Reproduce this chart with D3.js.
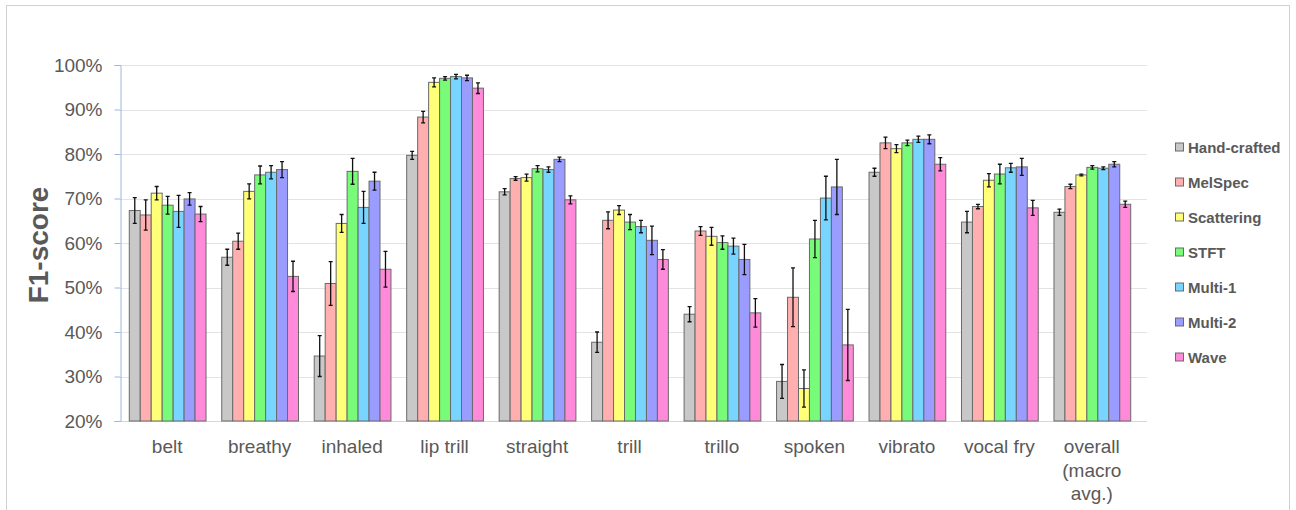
<!DOCTYPE html>
<html lang="en">
<head>
  <meta charset="UTF-8">
  <title>F1-score per technique</title>
  <script src="https://d3js.org/d3.v7.min.js"></script>
  <style>
    body { margin: 0; background: #fff; }
    text { font-family: "Liberation Sans", Arial, sans-serif; fill: #595959; }
    .grid line { stroke: #e3e3e3; }
    .bar { stroke: #6a6a6a; stroke-width: 1px; }
    .err { stroke: #111; stroke-width: 1.3px; fill: none; }
    .legend text { font-weight: bold; font-size: 15px; }
  </style>
</head>
<body>
  <svg width="1296" height="510"></svg>
  <script>
    // categories on the x axis
    var categories = ["belt", "breathy", "inhaled", "lip trill", "straight", "trill", "trillo", "spoken", "vibrato", "vocal fry", "overall"];
    var categoryLabels = [["belt"], ["breathy"], ["inhaled"], ["lip trill"], ["straight"], ["trill"], ["trillo"], ["spoken"], ["vibrato"], ["vocal fry"], ["overall", "(macro", "avg.)"]];
    var yTicks = [20, 30, 40, 50, 60, 70, 80, 90, 100];

    // series (F1 in %) and their error bars
    var seriesNames = ["Hand-crafted", "MelSpec", "Scattering", "STFT", "Multi-1", "Multi-2", "Wave"];
    var seriesColors = ["#c8c8c8", "#ffafaf", "#ffff78", "#78fb78", "#78d5ff", "#9a9cff", "#ff8ad9"];

    var handCrafted    = [67.3, 56.8, 34.6, 79.7, 71.5, 37.7, 44.0, 28.9, 75.9, 64.7, 66.9];
    var handCraftedErr = [2.9, 1.8, 4.6, 0.9, 0.7, 2.3, 1.7, 3.8, 0.9, 2.4, 0.7];
    var melSpec        = [66.3, 60.4, 50.9, 88.3, 74.5, 65.1, 62.7, 47.8, 82.5, 68.2, 72.7];
    var melSpecErr     = [3.4, 1.8, 4.9, 1.3, 0.4, 1.9, 1.0, 6.6, 1.3, 0.5, 0.5];
    var scattering     = [71.2, 71.6, 64.4, 96.1, 74.7, 67.4, 61.5, 27.3, 81.2, 74.1, 75.3];
    var scatteringErr  = [1.5, 1.7, 2.0, 1.0, 0.8, 1.0, 2.0, 4.2, 0.9, 1.5, 0.2];
    var stft           = [68.5, 75.3, 76.1, 97.0, 76.7, 64.7, 60.1, 60.9, 82.5, 75.5, 77.0];
    var stftErr        = [2.0, 2.0, 2.9, 0.4, 0.7, 1.7, 1.5, 4.2, 0.6, 2.2, 0.4];
    var multi1         = [67.1, 75.9, 68.0, 97.4, 76.5, 63.7, 59.3, 70.1, 83.3, 76.9, 76.8];
    var multi1Err      = [3.6, 1.5, 3.6, 0.5, 0.6, 1.4, 1.8, 4.9, 0.7, 1.0, 0.3];
    var multi2         = [69.9, 76.5, 73.9, 97.1, 78.8, 60.6, 56.3, 72.6, 83.3, 77.1, 77.7];
    var multi2Err      = [1.4, 1.8, 2.0, 0.6, 0.5, 3.2, 3.4, 6.2, 1.0, 1.9, 0.6];
    var wave           = [66.5, 52.5, 54.1, 94.8, 69.7, 56.3, 44.3, 37.1, 77.7, 67.9, 68.7];
    var waveErr        = [1.7, 3.4, 4.0, 1.2, 0.9, 2.2, 3.2, 8.0, 1.5, 1.7, 0.7];

    var values = [handCrafted, melSpec, scattering, stft, multi1, multi2, wave];
    var errors = [handCraftedErr, melSpecErr, scatteringErr, stftErr, multi1Err, multi2Err, waveErr];

    var svg = d3.select("svg");

    // outer frame
    svg.append("rect")
       .attr("x", 6.5).attr("y", 5.5)
       .attr("width", 1283).attr("height", 520)
       .attr("fill", "none").attr("stroke", "#d0d0d0");

    var x0 = d3.scaleBand()
               .domain(categories)
               .range([120, 1139])
               .paddingInner(0.17)
               .paddingOuter(0.095);
    var x1 = d3.scaleBand()
               .domain(seriesNames)
               .range([0, x0.bandwidth()]);
    var y = d3.scaleLinear()
              .domain([20, 100])
              .range([421, 65]);

    // gridlines
    svg.append("g").attr("class", "grid")
       .selectAll("line")
       .data(yTicks.slice(1))
       .enter().append("line")
       .attr("x1", 120).attr("x2", 1147)
       .attr("y1", function(d) { return Math.round(y(d)) + 0.5; })
       .attr("y2", function(d) { return Math.round(y(d)) + 0.5; });

    // bottom axis line
    svg.append("line")
       .attr("x1", 120).attr("x2", 1147)
       .attr("y1", 421.5).attr("y2", 421.5)
       .attr("stroke", "#d6d6d6");

    // y axis
    var yAxis = svg.append("g")
       .attr("transform", "translate(120.5,0)")
       .call(d3.axisLeft(y).tickValues(yTicks).tickSize(6).tickPadding(12)
               .tickFormat(function(d) { return d + "%"; }));
    yAxis.select(".domain").attr("stroke", "#9cb8e0");
    yAxis.selectAll(".tick line").attr("stroke", "#9cb8e0");
    yAxis.selectAll(".tick text")
         .attr("fill", "#595959")
         .style("font-size", "19px")
         .style("font-family", "'Liberation Sans', Arial, sans-serif");

    svg.append("text")
       .attr("transform", "translate(48,245) rotate(-90)")
       .attr("text-anchor", "middle")
       .style("font-size", "28px")
       .style("font-weight", "bold")
       .text("F1-score");

    // bars
    var group = svg.selectAll(".cat")
                   .data(categories)
                   .enter().append("g")
                   .attr("class", "cat")
                   .attr("transform", function(d) { return "translate(" + x0(d) + ",0)"; });

    group.each(function(cat, ci) {
      var g = d3.select(this);
      var rows = seriesNames.map(function(s, si) {
        return { key: s, color: seriesColors[si], value: values[si][ci], err: errors[si][ci] };
      });
      g.selectAll("rect")
       .data(rows)
       .enter().append("rect")
       .attr("class", "bar")
       .attr("x", function(d) { return x1(d.key) + 0.5; })
       .attr("y", function(d) { return y(d.value); })
       .attr("width", x1.bandwidth())
       .attr("height", function(d) { return y(20) - y(d.value); })
       .attr("fill", function(d) { return d.color; });

      var eb = g.selectAll(".err")
                .data(rows)
                .enter().append("path")
                .attr("class", "err")
                .attr("d", function(d) {
                  var cx = x1(d.key) + x1.bandwidth() / 2 + 0.5,
                      top = y(d.value + d.err), bot = y(d.value - d.err);
                  return "M" + (cx - 2) + "," + top + "H" + (cx + 2) +
                         "M" + cx + "," + top + "V" + bot +
                         "M" + (cx - 2) + "," + bot + "H" + (cx + 2);
                });
    });

    // category labels
    svg.selectAll(".catlabel")
       .data(categories)
       .enter().append("text")
       .attr("class", "catlabel")
       .attr("text-anchor", "middle")
       .attr("x", function(d) { return x0(d) + x0.bandwidth() / 2; })
       .attr("y", 453)
       .style("font-size", "19px")
       .selectAll("tspan")
       .data(function(d, i) { return categoryLabels[i]; })
       .enter().append("tspan")
       .attr("x", function() { var c = d3.select(this.parentNode).datum(); return x0(c) + x0.bandwidth() / 2; })
       .attr("dy", function(d, i) { return i === 0 ? 0 : 23.5; })
       .text(function(d) { return d; });

    // legend
    var legend = svg.append("g").attr("class", "legend")
                    .selectAll("g")
                    .data(seriesNames)
                    .enter().append("g")
                    .attr("transform", function(d, i) { return "translate(1175," + (147.5 + i * 35) + ")"; });
    legend.append("rect")
          .attr("x", 0.5).attr("y", -4.5)
          .attr("width", 8).attr("height", 8)
          .attr("fill", function(d, i) { return seriesColors[i]; })
          .attr("stroke", "#6a6a6a");
    legend.append("text")
          .attr("x", 13)
          .attr("dy", "0.35em")
          .text(function(d) { return d; });
  </script>
</body>
</html>
